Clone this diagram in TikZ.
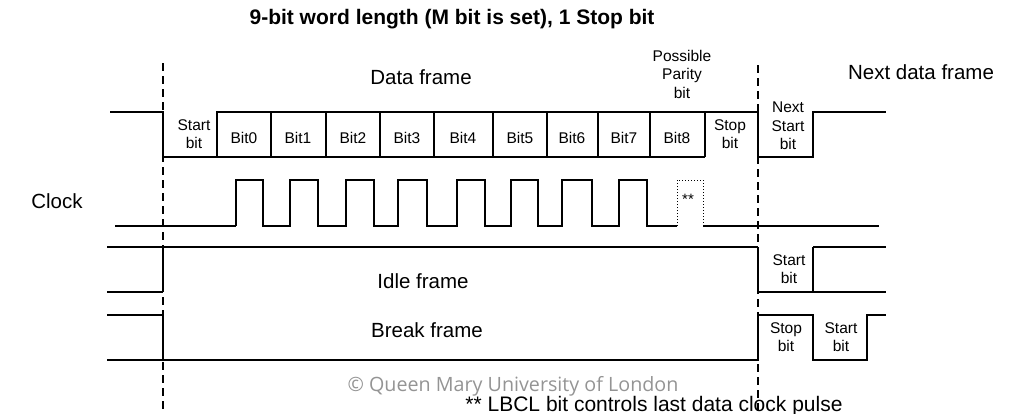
\documentclass[tikz,border=0pt]{standalone}
\usepackage{fontspec}
\setmainfont{Liberation Sans}
\newfontfamily\wmfont{Open Sans}
\begin{document}
\begin{tikzpicture}[x=1pt,y=-1pt,
  sig/.style={line width=2pt},
  thinsig/.style={line width=1.1pt},
  heavysig/.style={line width=2.7pt},
  dashv/.style={line width=1.8pt, dash pattern=on 8pt off 5pt},
  lbl/.style={font=\fontsize{15.5}{18.5}\selectfont, align=center, inner sep=0pt},
  big/.style={font=\fontsize{20.5}{24}\selectfont, inner sep=0pt}]
\useasboundingbox (0,0) rectangle (1014,413);
% title
\node[font=\bfseries\fontsize{21}{24}\selectfont, inner sep=0pt] (title) at (452,19) {9-bit word length (M bit is set), 1 Stop bit};
% dashed frame limits
\coordinate (dl1) at (163,63); \coordinate (dl2) at (163,413);
\coordinate (dr1) at (758,65); \coordinate (dr2) at (758,413);
\draw[dashv] (dl1) -- (dl2);
\draw[dashv] (dr1) -- (dr2);
% data frame signal
\draw[sig] (110,112) -- (163,112) -- (163,157) -- (217,157);
\draw[sig] (217,157) -- (217,112) -- (758,112) -- (758,157) -- (813,157) -- (813,112) -- (886,112);
\draw[sig] (217,157) -- (705,157);
\foreach \x in {271,326,380,434,493,547,598,650,705} \draw[sig] (\x,112) -- (\x,157);
% labels data frame
\node[big] (df) at (421,77) {Data frame};
\node[big] (ndf) at (921,72) {Next data frame};
\node[lbl] (par) at (682,74) {Possible\\Parity\\bit};
\node[lbl] (sb) at (194,134) {Start\\bit};
\foreach \i/\x in {0/244,1/298,2/353,3/407,4/463,5/520,6/572,7/624,8/677}
  \node[lbl] (b\i) at (\x,138) {Bit\i};
\node[lbl] (stb) at (730,134) {Stop\\bit};
\node[lbl] (nsb) at (788,126) {Next\\Start\\bit};
% clock
\node[big] (clk) at (57,201) {Clock};
\draw[heavysig] (115,226) -- (236,226);
\draw[sig] (236,226) -- (236,180) -- (263,180) -- (263,226)
  -- (290,226) -- (290,180) -- (318,180) -- (318,226)
  -- (346,226) -- (346,180) -- (374,180) -- (374,226)
  -- (398,226) -- (398,180) -- (427,180) -- (427,226)
  -- (457,226) -- (457,180) -- (485,180) -- (485,226)
  -- (511,226) -- (511,180) -- (538,180) -- (538,226)
  -- (562,226) -- (562,180) -- (592,180) -- (592,226)
  -- (619,226) -- (619,180) -- (647,180) -- (647,226) -- (677,226);
\draw[line width=1pt, dotted] (677,226) -- (677,180) -- (703,180) -- (703,226);
\node[font=\fontsize{15}{17}\selectfont, inner sep=0pt] (ast) at (688,199) {**};
\draw[sig] (703,226) -- (879,226);
% idle frame
\draw[thinsig] (107,247) -- (758,247);
\draw[thinsig] (107,292) -- (163,292);
\draw[sig] (163,292) -- (163,247);
\draw[sig] (758,247) -- (758,292);
\draw[thinsig] (758,292) -- (886,292);
\draw[sig] (813,292) -- (813,247);
\draw[thinsig] (813,247) -- (886,247);
\node[big] (idle) at (423,281) {Idle frame};
\node[lbl] (isb) at (789,269) {Start\\bit};
% break frame
\draw[sig] (107,315) -- (163,315) -- (163,360);
\draw[heavysig] (107,360) -- (758,360) -- (758,315) -- (813,315) -- (813,360) -- (867,360) -- (867,315) -- (886,315);
\node[big] (brk) at (427,330) {Break frame};
\node[lbl] (bstop) at (786,337) {Stop\\bit};
\node[lbl] (bstart) at (841,337) {Start\\bit};
% watermark and footnote
\node[font=\wmfont\fontsize{19.7}{23}\selectfont, text=black!42, inner sep=0pt] (wm) at (513,386) {© Queen Mary University of London};
\node[font=\fontsize{21}{24}\selectfont, anchor=base, inner sep=0pt] (fn) at (654,411) {** LBCL bit controls last data clock pulse};
\end{tikzpicture}
\end{document}
